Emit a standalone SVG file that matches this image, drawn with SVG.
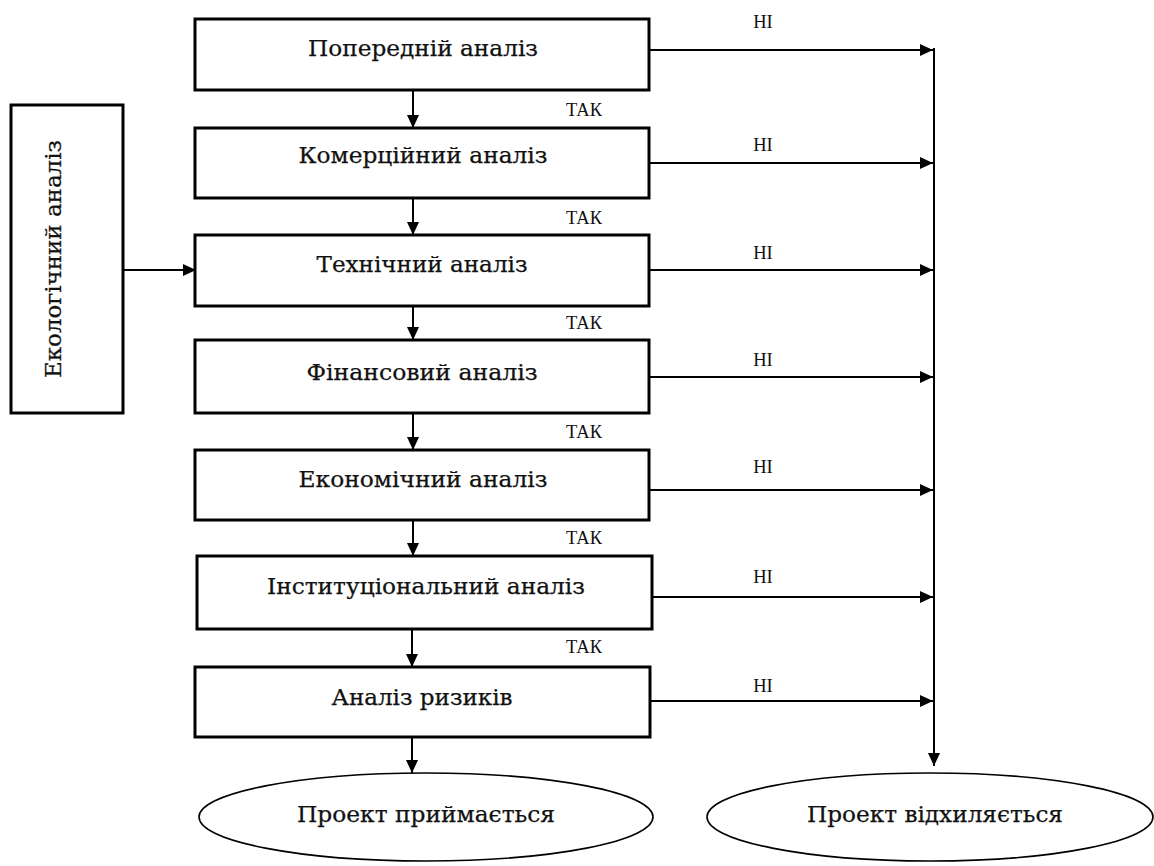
<svg xmlns="http://www.w3.org/2000/svg" width="1154" height="866" viewBox="0 0 1154 866">
<defs>
<marker id="ah" markerUnits="userSpaceOnUse" markerWidth="14" markerHeight="14" viewBox="0 0 14 14" refX="13" refY="7" orient="auto">
<path d="M0,1 L13,7 L0,13 z" fill="#000"/>
</marker>
<style>
.box{fill:#fff;stroke:#000;stroke-width:3}
.ell{fill:#fff;stroke:#000;stroke-width:1.6}
.lbl{font-family:"DejaVu Serif","Liberation Serif",serif;font-size:21.5px;fill:#111;stroke:#111;stroke-width:0.25;text-anchor:middle}
.small{font-family:"Liberation Serif","DejaVu Serif",serif;font-size:18.5px;fill:#111;text-anchor:middle}
.ln{stroke:#000;stroke-width:2;fill:none}
.arr{stroke:#000;stroke-width:2;fill:none;marker-end:url(#ah)}
</style>
</defs>
<rect width="1154" height="866" fill="#fff"/>

<g id="connectors">
<line class="arr" x1="413" y1="90" x2="413" y2="128"/>
<line class="arr" x1="413" y1="198" x2="413" y2="235"/>
<line class="arr" x1="413" y1="306" x2="413" y2="340"/>
<line class="arr" x1="413" y1="413" x2="413" y2="450"/>
<line class="arr" x1="413" y1="520" x2="413" y2="556"/>
<line class="arr" x1="412" y1="629" x2="412" y2="667"/>
<line class="arr" x1="412" y1="737" x2="412" y2="773"/>
<line class="arr" x1="123" y1="270" x2="196" y2="270"/>
<line class="arr" x1="649" y1="50" x2="933" y2="50"/>
<line class="arr" x1="649" y1="163" x2="933" y2="163"/>
<line class="arr" x1="649" y1="270" x2="933" y2="270"/>
<line class="arr" x1="649" y1="377" x2="933" y2="377"/>
<line class="arr" x1="649" y1="490" x2="933" y2="490"/>
<line class="arr" x1="652" y1="597" x2="933" y2="597"/>
<line class="arr" x1="650" y1="701" x2="933" y2="701"/>
<line class="arr" x1="934" y1="48" x2="934" y2="766"/>
<text class="small" x="584" y="116">ТАК</text>
<text class="small" x="584" y="224">ТАК</text>
<text class="small" x="584" y="329">ТАК</text>
<text class="small" x="584" y="438">ТАК</text>
<text class="small" x="584" y="544">ТАК</text>
<text class="small" x="584" y="653">ТАК</text>
<text class="small" x="763" y="28">НІ</text>
<text class="small" x="763" y="151">НІ</text>
<text class="small" x="763" y="259">НІ</text>
<text class="small" x="763" y="366">НІ</text>
<text class="small" x="763" y="473">НІ</text>
<text class="small" x="763" y="583">НІ</text>
<text class="small" x="763" y="692">НІ</text>
</g>

<g id="n-eco">
<rect class="box" x="11" y="105" width="112" height="308"/>
<text class="lbl" transform="translate(61,259) rotate(-90)" x="0" y="0" textLength="238" lengthAdjust="spacingAndGlyphs">Екологічний аналіз</text>
</g>
<g id="n1">
<rect class="box" x="195" y="19" width="454" height="71"/>
<text class="lbl" x="423" y="56" textLength="230" lengthAdjust="spacingAndGlyphs">Попередній аналіз</text>
</g>
<g id="n2">
<rect class="box" x="195" y="128" width="454" height="70"/>
<text class="lbl" x="423" y="163" textLength="249" lengthAdjust="spacingAndGlyphs">Комерційний аналіз</text>
</g>
<g id="n3">
<rect class="box" x="195" y="235" width="454" height="71"/>
<text class="lbl" x="422" y="272" textLength="211" lengthAdjust="spacingAndGlyphs">Технічний аналіз</text>
</g>
<g id="n4">
<rect class="box" x="195" y="340" width="454" height="73"/>
<text class="lbl" x="422" y="380" textLength="231" lengthAdjust="spacingAndGlyphs">Фінансовий аналіз</text>
</g>
<g id="n5">
<rect class="box" x="195" y="450" width="454" height="70"/>
<text class="lbl" x="423" y="487" textLength="249" lengthAdjust="spacingAndGlyphs">Економічний аналіз</text>
</g>
<g id="n6">
<rect class="box" x="197" y="556" width="455" height="73"/>
<text class="lbl" x="426" y="594" textLength="318" lengthAdjust="spacingAndGlyphs">Інституціональний аналіз</text>
</g>
<g id="n7">
<rect class="box" x="195" y="667" width="455" height="70"/>
<text class="lbl" x="422" y="705" textLength="181" lengthAdjust="spacingAndGlyphs">Аналіз ризиків</text>
</g>
<g id="n-accept">
<ellipse class="ell" cx="426" cy="817" rx="227" ry="44"/>
<text class="lbl" x="426" y="822" textLength="258" lengthAdjust="spacingAndGlyphs">Проект приймається</text>
</g>
<g id="n-reject">
<ellipse class="ell" cx="930" cy="817" rx="223" ry="44"/>
<text class="lbl" x="935" y="822" textLength="256" lengthAdjust="spacingAndGlyphs">Проект відхиляється</text>
</g>
</svg>
